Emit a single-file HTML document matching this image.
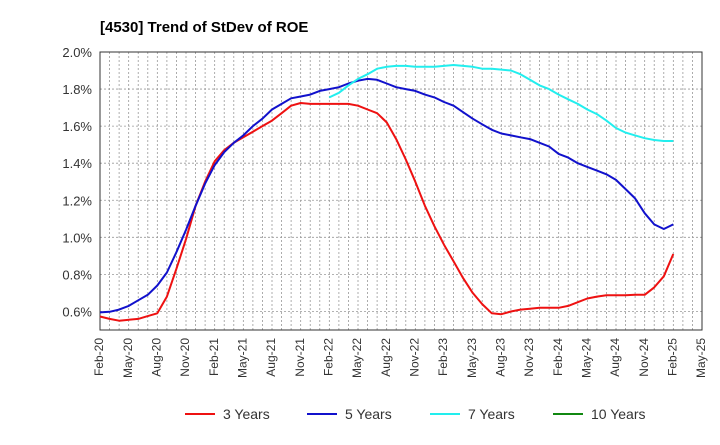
<!DOCTYPE html>
<html><head><meta charset="utf-8"><style>
body{margin:0;background:#fff;font-family:"Liberation Sans",Arial,sans-serif}
svg text{font-family:"Liberation Sans",Arial,sans-serif}
</style></head><body>
<svg id="chart" width="720" height="440" xmlns="http://www.w3.org/2000/svg">
<text x="100" y="32" font-size="15" font-weight="bold" fill="#000">[4530]  Trend of StDev of ROE</text>
<g id="grid"></g><g id="axes"></g><g id="series"></g><g id="legend"></g>
</svg>
<script>
const xLabels=["Feb-20","May-20","Aug-20","Nov-20","Feb-21","May-21","Aug-21","Nov-21","Feb-22","May-22","Aug-22","Nov-22","Feb-23","May-23","Aug-23","Nov-23","Feb-24","May-24","Aug-24","Nov-24","Feb-25","May-25"];
const yTicks=[0.6,0.8,1.0,1.2,1.4,1.6,1.8,2.0];
const years3=[0.573,0.56,0.55,0.555,0.56,0.575,0.59,0.68,0.83,0.99,1.17,1.30,1.41,1.47,1.51,1.54,1.57,1.60,1.63,1.67,1.71,1.725,1.72,1.72,1.72,1.72,1.72,1.71,1.69,1.67,1.62,1.53,1.42,1.30,1.17,1.06,0.96,0.87,0.78,0.70,0.64,0.59,0.585,0.60,0.61,0.615,0.62,0.62,0.62,0.63,0.65,0.67,0.68,0.687,0.687,0.687,0.69,0.69,0.73,0.79,0.91];
const years5=[0.595,0.598,0.61,0.63,0.66,0.69,0.74,0.81,0.92,1.04,1.17,1.29,1.39,1.46,1.51,1.55,1.60,1.64,1.69,1.72,1.75,1.76,1.77,1.79,1.80,1.81,1.83,1.845,1.855,1.85,1.83,1.81,1.80,1.79,1.77,1.755,1.73,1.71,1.675,1.64,1.61,1.58,1.56,1.55,1.54,1.53,1.51,1.49,1.45,1.43,1.40,1.38,1.36,1.34,1.31,1.26,1.21,1.13,1.07,1.045,1.07];
const years7=[null,null,null,null,null,null,null,null,null,null,null,null,null,null,null,null,null,null,null,null,null,null,null,null,1.755,1.78,1.82,1.855,1.88,1.91,1.92,1.925,1.925,1.92,1.92,1.92,1.925,1.93,1.925,1.92,1.91,1.91,1.905,1.90,1.88,1.85,1.82,1.80,1.77,1.745,1.72,1.69,1.665,1.63,1.59,1.565,1.55,1.535,1.525,1.52,1.52];
const years10=[];
const L=100,R=702,T=52,B=330,yMin=0.5,yMax=2.0,nMonths=63;
const xs=i=>L+i*(R-L)/nMonths;
const ys=v=>B-(v-yMin)/(yMax-yMin)*(B-T);
const NS="http://www.w3.org/2000/svg";
function mk(tag,attrs,parent){const e=document.createElementNS(NS,tag);for(const k in attrs)e.setAttribute(k,attrs[k]);parent.appendChild(e);return e;}
const grid=document.getElementById('grid'),axes=document.getElementById('axes'),series=document.getElementById('series'),legend=document.getElementById('legend');
for(let i=1;i<nMonths;i++){const g=mk('line',{x1:xs(i),x2:xs(i),y1:T,y2:B,stroke:'#999','stroke-dasharray':'2,2','stroke-width':0.8},grid);

}
yTicks.forEach(v=>{const g=mk('line',{x1:L,x2:R,y1:ys(v),y2:ys(v),stroke:'#999','stroke-dasharray':'2,2','stroke-width':0.8},grid);


const t=mk('text',{x:L-8,y:ys(v)+5,'text-anchor':'end','font-size':13,fill:'#333'},axes);t.textContent=v.toFixed(1)+'%';

});
const frame=mk('rect',{x:L,y:T,width:R-L,height:B-T,fill:'none',stroke:'#333','stroke-width':1},axes);


xLabels.forEach((s,i)=>{const x=xs(i*3),y=B+8;const t=mk('text',{x:x,y:y,transform:`rotate(-90 ${x} ${y})`,'text-anchor':'end','dominant-baseline':'middle','font-size':12,fill:'#333'},axes);t.textContent=s;

});
function draw(arr,color,name){let d='';let pen=false;arr.forEach((v,i)=>{if(v==null){pen=false;return;}d+=(pen?'L':'M')+xs(i).toFixed(1)+','+ys(v).toFixed(1);pen=true;});
if(!d)return;const p=mk('path',{d:d,fill:'none',stroke:color,'stroke-width':2,'stroke-linejoin':'round'},series);

}
draw(years3,'#ee1111','line-3-years');draw(years5,'#1111cc','line-5-years');draw(years7,'#22eeee','line-7-years');draw(years10,'#118811','line-10-years');
const leg=[['3 Years','#ee1111',185],['5 Years','#1111cc',307],['7 Years','#22eeee',430],['10 Years','#118811',553]];
leg.forEach(([s,c,x])=>{const g=mk('g',{},legend);


mk('line',{x1:x,x2:x+30,y1:414,y2:414,stroke:c,'stroke-width':2},g);
const t=mk('text',{x:x+38,y:419,'font-size':14,fill:'#333'},g);t.textContent=s;});
</script>
</body></html>
